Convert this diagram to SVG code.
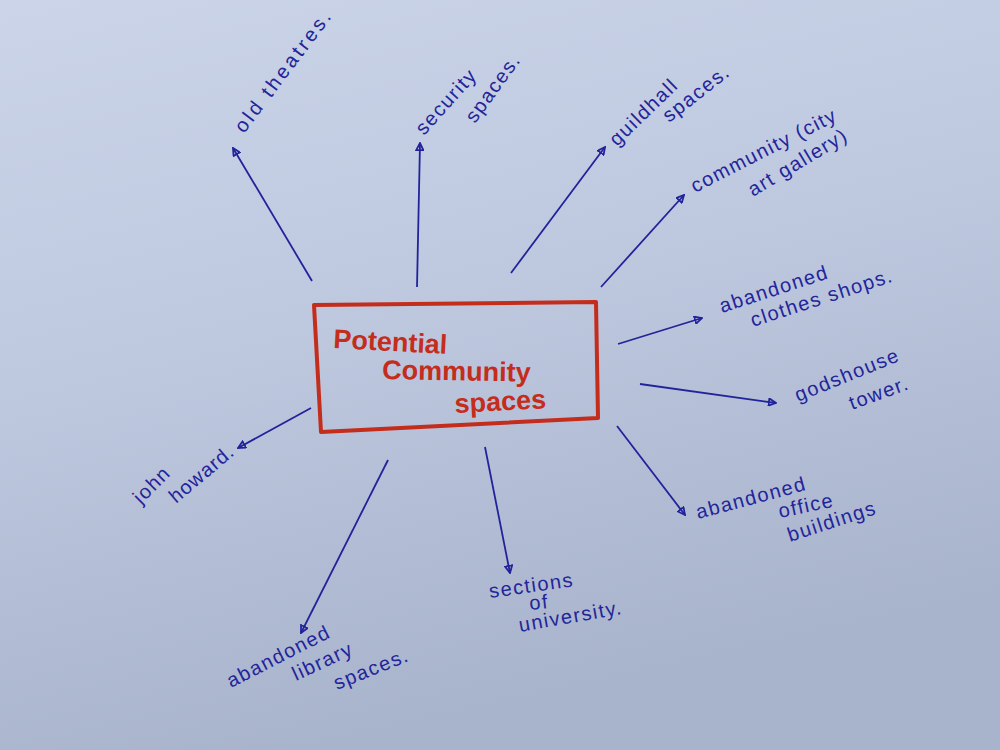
<svg xmlns="http://www.w3.org/2000/svg" width="1000" height="750" viewBox="0 0 1000 750">
<defs>
<linearGradient id="paper" x1="0" y1="0" x2="0.3" y2="1">
<stop offset="0" stop-color="#cbd4e8"/>
<stop offset="0.5" stop-color="#bdc8df"/>
<stop offset="1" stop-color="#a8b3cc"/>
</linearGradient>
<marker id="ah" viewBox="0 0 10 10" refX="9" refY="5" markerWidth="9" markerHeight="9" orient="auto" markerUnits="userSpaceOnUse">
<path d="M1,1 L9,5 L1,9 Z" fill="none" stroke="#22239a" stroke-width="2"/>
</marker>
<style>
.ink{fill:#23249a;font-family:"Liberation Sans",Arial,sans-serif;font-size:20px;letter-spacing:1.5px}
.red{fill:#c42d1c;font-family:"Liberation Sans",Arial,sans-serif;font-weight:bold;font-size:27px}
.con{stroke:#22239a;stroke-width:1.8;fill:none;marker-end:url(#ah)}
</style>
</defs>
<rect width="1000" height="750" fill="url(#paper)"/>
<g id="center">
<path d="M314,305 L596,302 L598,418 L321,432 Z" fill="none" stroke="#c42d1c" stroke-width="4" stroke-linejoin="round"/>
<text class="red" x="333" y="348" transform="rotate(3 333 348)">Potential</text>
<text class="red" x="382" y="379" transform="rotate(1 382 379)">Community</text>
<text class="red" x="455" y="413" transform="rotate(-3 455 413)">spaces</text>
</g>
<g id="connectors">
<line class="con" x1="312" y1="281" x2="233" y2="148"/>
<line class="con" x1="417" y1="287" x2="420" y2="143"/>
<line class="con" x1="511" y1="273" x2="605" y2="147"/>
<line class="con" x1="601" y1="287" x2="684" y2="195"/>
<line class="con" x1="618" y1="344" x2="702" y2="318"/>
<line class="con" x1="640" y1="384" x2="776" y2="403"/>
<line class="con" x1="617" y1="426" x2="685" y2="515"/>
<line class="con" x1="485" y1="447" x2="510" y2="573"/>
<line class="con" x1="388" y1="460" x2="301" y2="633"/>
<line class="con" x1="311" y1="408" x2="238" y2="448"/>
</g>
<g id="n-old-theatres">
<text class="ink" x="244" y="134" transform="rotate(-53 244 134)" style="letter-spacing:3px">old theatres.</text>
</g>
<g id="n-security">
<text class="ink" x="424" y="136" transform="rotate(-48 424 136)">security</text>
<text class="ink" x="475" y="124" transform="rotate(-54 475 124)">spaces.</text>
</g>
<g id="n-guildhall">
<text class="ink" x="617" y="147" transform="rotate(-44 617 147)">guildhall</text>
<text class="ink" x="669" y="123" transform="rotate(-38 669 123)">spaces.</text>
</g>
<g id="n-community">
<text class="ink" x="695" y="193" transform="rotate(-27 695 193)">community (city</text>
<text class="ink" x="753" y="197" transform="rotate(-31 753 197)">art gallery)</text>
</g>
<g id="n-clothes">
<text class="ink" x="722" y="313" transform="rotate(-18 722 313)">abandoned</text>
<text class="ink" x="753" y="327" transform="rotate(-18 753 327)">clothes shops.</text>
</g>
<g id="n-godshouse">
<text class="ink" x="798" y="402" transform="rotate(-22 798 402)">godshouse</text>
<text class="ink" x="852" y="410" transform="rotate(-20 852 410)">tower.</text>
</g>
<g id="n-office">
<text class="ink" x="698" y="519" transform="rotate(-15 698 519)">abandoned</text>
<text class="ink" x="780" y="518" transform="rotate(-12 780 518)">office</text>
<text class="ink" x="790" y="542" transform="rotate(-18 790 542)">buildings</text>
</g>
<g id="n-university">
<text class="ink" x="490" y="598" transform="rotate(-8 490 598)">sections</text>
<text class="ink" x="530" y="610" transform="rotate(-6 530 610)">of</text>
<text class="ink" x="520" y="632" transform="rotate(-10 520 632)">university.</text>
</g>
<g id="n-library">
<text class="ink" x="231" y="688" transform="rotate(-27 231 688)">abandoned</text>
<text class="ink" x="296" y="681" transform="rotate(-25 296 681)">library</text>
<text class="ink" x="337" y="690" transform="rotate(-22 337 690)">spaces.</text>
</g>
<g id="n-john">
<text class="ink" x="141" y="505" transform="rotate(-45 141 505)">john</text>
<text class="ink" x="176" y="504" transform="rotate(-40 176 504)" style="letter-spacing:1px">howard.</text>
</g>
</svg>
